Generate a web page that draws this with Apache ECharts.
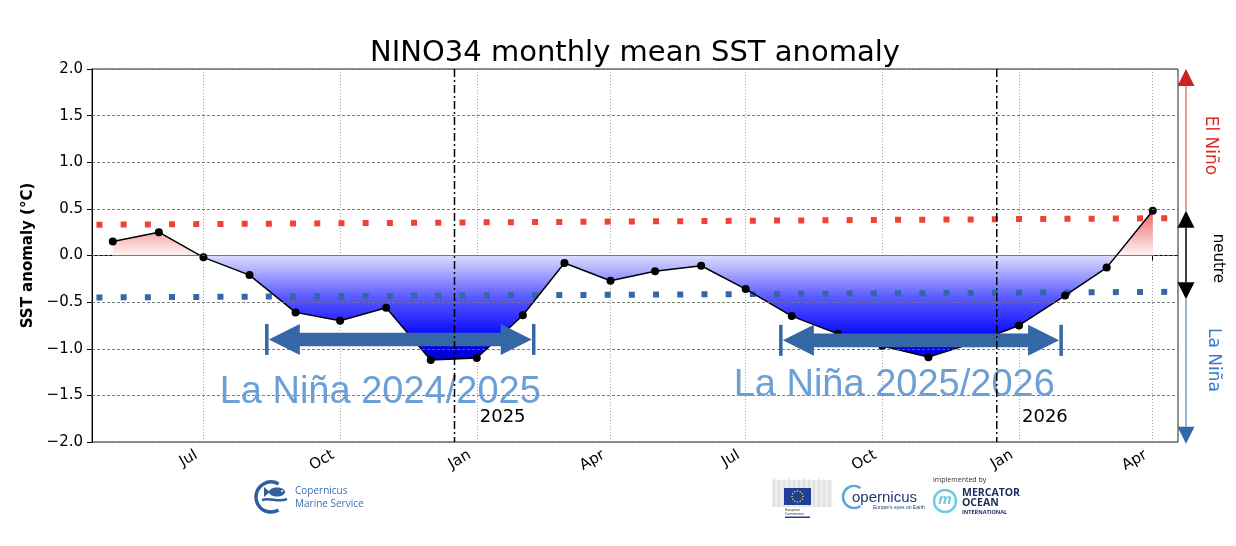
<!DOCTYPE html>
<html>
<head>
<meta charset="utf-8">
<title>NINO34 monthly mean SST anomaly</title>
<script src="https://cdn.jsdelivr.net/npm/echarts@6/dist/echarts.min.js"></script>
<style>
  html, body { margin: 0; padding: 0; background: #fff; }
  #chart { width: 1236px; height: 546px; }
</style>
</head>
<body>
<div id="chart"></div>
<script>
// monthly NINO34 anomaly (°C)
var months = ['2024-05-01', '2024-06-01', '2024-07-01', '2024-08-01', '2024-09-01', '2024-10-01',
              '2024-11-01', '2024-12-01', '2025-01-01', '2025-02-01', '2025-03-01', '2025-04-01',
              '2025-05-01', '2025-06-01', '2025-07-01', '2025-08-01', '2025-09-01', '2025-10-01',
              '2025-11-01', '2025-12-01', '2026-01-01', '2026-02-01', '2026-03-01', '2026-04-01'];
var anomaly = [0.15, 0.25, -0.02, -0.21, -0.61, -0.70,
               -0.56, -1.12, -1.10, -0.64, -0.08, -0.27,
               -0.17, -0.11, -0.36, -0.65, -0.84, -0.97,
               -1.09, -0.94, -0.75, -0.43, -0.13, 0.48];

// thresholds (dotted lines)
var thresholdDates = ['2024-04-20', '2026-04-11'];
var elNinoThreshold = [0.33, 0.40];
var laNinaThreshold = [-0.45, -0.39];

// x axis ticks
var tickDates = ['2024-07-01', '2024-10-01', '2025-01-01', '2025-04-01',
                 '2025-07-01', '2025-10-01', '2026-01-01', '2026-04-01'];
var tickLabels = ['Jul', 'Oct', 'Jan', 'Apr', 'Jul', 'Oct', 'Jan', 'Apr'];
var gridValues = [1.5, 1.0, 0.5, 0.0, -0.5, -1.0, -1.5];

// year separators
var yearMarkDates = ['2024-12-17', '2025-12-17'];
var yearLabelDates = ['2025-01-03', '2026-01-03'];
var yearLabels = ['2025', '2026'];
var yearLabelY = -1.74;

// La Nina episodes
var ninaStart = ['2024-08-12', '2025-07-24'];
var ninaEnd = ['2025-02-09', '2026-01-30'];
var ninaArrowY = [-0.90, -0.91];
var ninaTitles = ['La Niña 2024/2025', 'La Niña 2025/2026'];
var ninaTitleDates = ['2024-10-28', '2025-10-09'];
var ninaTitleY = [-1.47, -1.39];

// side indicator (tips of arrows)
var sideLevels = [2.0, 0.48, -0.47, -2.02];
var sideLabels = ['El Niño', 'neutre', 'La Niña'];
var sideLabelY = [1.18, -0.03, -1.12];

// dates -> day number (x axis is a plain value axis in days)
function t(s) {
    var p = s.split('-');
    return Date.UTC(+p[0], +p[1] - 1, +p[2]) / 86400000;
}

var tickTimes = tickDates.map(t);
var xMin = t('2024-04-17');
var xMax = t('2026-04-18');

var vMax = Math.max.apply(null, anomaly.concat([0]));
var vMin = Math.min.apply(null, anomaly.concat([0]));
function stopAt(v) { return Math.min(1, (vMax - v) / (vMax - vMin)); }

var lineData = months.map(function (d, i) { return [t(d), anomaly[i]]; });

var FONT = '"DejaVu Sans", sans-serif';
var ARROW = '#3566a6';

function renderNinaArrow(params, api) {
    var p1 = api.coord([api.value(0), api.value(2)]);
    var p2 = api.coord([api.value(1), api.value(2)]);
    var yc = p1[1], xa = p1[0] + 3, xb = p2[0] - 3;
    var head = 31, hh = 15.5, sh = 6.8;
    var pts = [[xa, yc], [xa + head, yc - hh], [xa + head, yc - sh], [xb - head, yc - sh],
               [xb - head, yc - hh], [xb, yc], [xb - head, yc + hh], [xb - head, yc + sh],
               [xa + head, yc + sh], [xa + head, yc + hh]];
    return {
        type: 'group',
        children: [
            { type: 'polygon', shape: { points: pts }, style: { fill: ARROW } },
            { type: 'line', shape: { x1: xa - 2, y1: yc - hh, x2: xa - 2, y2: yc + hh },
              style: { stroke: ARROW, lineWidth: 3.5 } },
            { type: 'line', shape: { x1: xb + 2, y1: yc - hh, x2: xb + 2, y2: yc + hh },
              style: { stroke: ARROW, lineWidth: 3.5 } }
        ]
    };
}

function renderNinaTitle(params, api) {
    var p = api.coord([api.value(0), api.value(1)]);
    return {
        type: 'text', x: p[0], y: p[1],
        style: {
            text: ninaTitles[params.dataIndex], fill: '#6c9fd5',
            font: '38px "Liberation Sans", Arial, sans-serif',
            align: 'center', verticalAlign: 'middle'
        }
    };
}

function renderYearMark(params, api) {
    var top = api.coord([api.value(0), 2.0]);
    var bot = api.coord([api.value(0), -2.0]);
    var lab = api.coord([api.value(1), api.value(2)]);
    return {
        type: 'group',
        children: [
            { type: 'line', shape: { x1: top[0], y1: top[1], x2: bot[0], y2: bot[1] },
              style: { stroke: '#000', lineWidth: 1.5, lineDash: [8, 3, 2, 3] } },
            { type: 'text', x: lab[0], y: lab[1],
              style: { text: yearLabels[params.dataIndex], fill: '#000', font: '18px ' + FONT,
                       align: 'left', verticalAlign: 'middle' } }
        ]
    };
}

function renderSide(params, api) {
    var cs = params.coordSys;
    var x = cs.x + cs.width + 8;
    var ys = sideLevels.map(function (v) { return api.coord([xMin, v])[1]; });
    var w = 8.5, h = 17;
    var labX = [x + 24, x + 32, x + 27];
    var labColor = ['#d62a2a', '#000', '#3a78cc'];
    var labSize = [17, 15, 17];
    var children = [
        { type: 'line', shape: { x1: x, y1: ys[0] + h, x2: x, y2: ys[1] }, style: { stroke: '#e99a9a', lineWidth: 2 } },
        { type: 'line', shape: { x1: x, y1: ys[1] + h, x2: x, y2: ys[2] - h }, style: { stroke: '#000', lineWidth: 1.5 } },
        { type: 'line', shape: { x1: x, y1: ys[2], x2: x, y2: ys[3] - h }, style: { stroke: '#94b2da', lineWidth: 2 } },
        { type: 'polygon', shape: { points: [[x, ys[0]], [x - w, ys[0] + h], [x + w, ys[0] + h]] }, style: { fill: '#cc2222' } },
        { type: 'polygon', shape: { points: [[x, ys[1]], [x - w, ys[1] + h], [x + w, ys[1] + h]] }, style: { fill: '#000' } },
        { type: 'polygon', shape: { points: [[x, ys[2]], [x - w, ys[2] - h], [x + w, ys[2] - h]] }, style: { fill: '#000' } },
        { type: 'polygon', shape: { points: [[x, ys[3]], [x - w, ys[3] - h], [x + w, ys[3] - h]] }, style: { fill: '#3566a6' } }
    ];
    sideLabels.forEach(function (s, i) {
        children.push({
            type: 'text', x: labX[i], y: api.coord([xMin, sideLabelY[i]])[1], rotation: -Math.PI / 2,
            style: { text: s, fill: labColor[i], font: labSize[i] + 'px ' + FONT,
                     align: 'center', verticalAlign: 'middle' }
        });
    });
    return { type: 'group', children: children };
}

// logos at the bottom (decoration only)
function logoElements() {
    var els = [];
    var blue = '#2f5f9f';
    // Copernicus Marine Service
    els.push({ type: 'arc', shape: { cx: 271, cy: 497, r: 15, startAngle: Math.PI / 3, endAngle: Math.PI * 5 / 3 },
               style: { stroke: blue, lineWidth: 3.5, fill: null } });
    els.push({ type: 'ellipse', shape: { cx: 277, cy: 492, rx: 8, ry: 4.5 }, style: { fill: blue } });
    els.push({ type: 'polygon', shape: { points: [[270, 492], [264, 487], [264, 497]] }, style: { fill: blue } });
    els.push({ type: 'circle', shape: { cx: 282, cy: 491, r: 1 }, style: { fill: '#fff' } });
    els.push({ type: 'bezierCurve', shape: { x1: 262, y1: 500, cpx1: 270, cpy1: 497, cpx2: 278, cpy2: 503, x2: 287, y2: 499 },
               style: { stroke: blue, lineWidth: 2.5, fill: null } });
    els.push({ type: 'text', x: 295, y: 491, style: { text: 'Copernicus', font: '10px "Open Sans", sans-serif', fill: '#3d6fad', verticalAlign: 'middle' } });
    els.push({ type: 'text', x: 295, y: 504, style: { text: 'Marine Service', font: '10px "Open Sans", sans-serif', fill: '#3d6fad', verticalAlign: 'middle' } });
    // European Commission
    els.push({ type: 'rect', shape: { x: 772, y: 480, width: 60, height: 27 }, style: { fill: '#ededed' } });
    for (var k = 0; k < 12; k++) {
        els.push({ type: 'line', shape: { x1: 774 + k * 5, y1: 478 + (k % 3), x2: 774 + k * 5, y2: 507 }, style: { stroke: '#d4d4d4', lineWidth: 1 } });
    }
    els.push({ type: 'rect', shape: { x: 784, y: 488, width: 27, height: 17 }, style: { fill: '#1f3f99' } });
    for (var s = 0; s < 12; s++) {
        var a = s * Math.PI / 6;
        els.push({ type: 'circle', shape: { cx: 797.5 + 5.5 * Math.cos(a), cy: 496.5 + 5.5 * Math.sin(a), r: 0.8 }, style: { fill: '#ffdd00' } });
    }
    els.push({ type: 'text', x: 785, y: 510, style: { text: 'European', font: '3.5px sans-serif', fill: '#333', verticalAlign: 'middle' } });
    els.push({ type: 'text', x: 785, y: 514, style: { text: 'Commission', font: '3.5px sans-serif', fill: '#333', verticalAlign: 'middle' } });
    els.push({ type: 'rect', shape: { x: 785, y: 516.5, width: 25, height: 1.5 }, style: { fill: '#1f3f99' } });
    // copernicus
    els.push({ type: 'arc', shape: { cx: 854, cy: 497, r: 11, startAngle: Math.PI * 0.3, endAngle: Math.PI * 1.7 },
               style: { stroke: '#5aa6dc', lineWidth: 2.5, fill: null } });
    els.push({ type: 'text', x: 852, y: 498, style: { text: 'opernicus', font: '15px "Liberation Sans", sans-serif', fill: '#1c3b76', verticalAlign: 'middle' } });
    els.push({ type: 'text', x: 873, y: 508, style: { text: "Europe's eyes on Earth", font: '5px sans-serif', fill: '#1c3b76', verticalAlign: 'middle' } });
    // Mercator Ocean International
    els.push({ type: 'text', x: 933, y: 480, style: { text: 'implemented by', font: '7px "Open Sans", sans-serif', fill: '#333', verticalAlign: 'middle' } });
    els.push({ type: 'circle', shape: { cx: 945, cy: 501, r: 11 }, style: { stroke: '#6ccbe6', lineWidth: 2.5, fill: null } });
    els.push({ type: 'text', x: 945, y: 500, style: { text: 'm', font: 'italic bold 15px "Open Sans", sans-serif', fill: '#6ccbe6', align: 'center', verticalAlign: 'middle' } });
    els.push({ type: 'text', x: 962, y: 493, style: { text: 'MERCATOR', font: 'bold 10.5px "Open Sans", sans-serif', fill: '#1d2b5c', verticalAlign: 'middle' } });
    els.push({ type: 'text', x: 962, y: 503, style: { text: 'OCEAN', font: 'bold 10.5px "Open Sans", sans-serif', fill: '#1d2b5c', verticalAlign: 'middle' } });
    els.push({ type: 'text', x: 962, y: 512, style: { text: 'INTERNATIONAL', font: 'bold 5.5px "Open Sans", sans-serif', fill: '#1d2b5c', verticalAlign: 'middle' } });
    return els;
}

var chart = echarts.init(document.getElementById('chart'));
var option = {
    animation: false,
    backgroundColor: '#fff',
    graphic: {
        elements: [
            { type: 'text', x: 635, y: 53, style: { text: 'NINO34 monthly mean SST anomaly', font: '29px ' + FONT, fill: '#000', align: 'center', verticalAlign: 'middle' } }
        ].concat(logoElements())
    },
    grid: { left: 92, right: 58, top: 69, bottom: 104, show: true, borderColor: '#222', borderWidth: 1 },
    xAxis: {
        type: 'value',
        min: xMin,
        max: xMax,
        axisLine: { lineStyle: { color: '#000', width: 1 } },
        axisTick: { length: 5, customValues: tickTimes, lineStyle: { color: '#000' } },
        axisLabel: {
            customValues: tickTimes,
            rotate: 30,
            margin: 8,
            padding: [0, 8, 0, 0],
            fontFamily: 'DejaVu Sans',
            fontSize: 15,
            color: '#000',
            formatter: function (val) {
                var i = tickTimes.indexOf(val);
                return i >= 0 ? tickLabels[i] : '';
            }
        },
        splitLine: { show: true, lineStyle: { type: [1, 2], color: '#8a8a8a', width: 0.8 } }
    },
    yAxis: {
        type: 'value',
        min: -2,
        max: 2,
        interval: 0.5,
        name: 'SST anomaly (°C)',
        nameLocation: 'middle',
        nameGap: 55,
        nameTextStyle: { fontFamily: 'DejaVu Sans', fontSize: 15, fontWeight: 'bold', color: '#000' },
        axisLine: { show: true, lineStyle: { color: '#000', width: 1 } },
        axisTick: { show: true, length: 5, lineStyle: { color: '#000' } },
        axisLabel: {
            margin: 9,
            fontFamily: 'DejaVu Sans',
            fontSize: 15,
            color: '#000',
            formatter: function (v) { return (v < 0 ? '\u2212' : '') + Math.abs(v).toFixed(1); }
        },
        splitLine: { show: true, lineStyle: { type: [3, 2], color: '#777', width: 0.8 } }
    },
    series: [
        {
            name: 'fill',
            type: 'line',
            data: lineData,
            z: 2,
            silent: true,
            showSymbol: false,
            symbol: 'none',
            lineStyle: { width: 0, opacity: 0 },
            areaStyle: {
                opacity: 1,
                color: {
                    type: 'linear', x: 0, y: 0, x2: 0, y2: 1,
                    colorStops: [
                        { offset: 0, color: '#ee6464' },
                        { offset: stopAt(0), color: '#fff4f4' },
                        { offset: stopAt(0), color: '#dcdcff' },
                        { offset: stopAt(-0.45), color: '#5a5aff' },
                        { offset: stopAt(-0.9), color: '#0000ff' },
                        { offset: 1, color: '#0000cc' }
                    ]
                }
            }
        },
        {
            name: 'grid overlay',
            type: 'line',
            z: 3,
            silent: true,
            data: [],
            markLine: {
                silent: true,
                symbol: 'none',
                label: { show: false },
                data: gridValues.map(function (v) {
                    return { yAxis: v, lineStyle: { type: [3, 2], color: '#777', width: 0.8 } };
                })
            }
        },
        {
            name: 'El Niño threshold',
            type: 'line',
            z: 3,
            symbol: 'none',
            silent: true,
            data: thresholdDates.map(function (d, i) { return [t(d), elNinoThreshold[i]]; }),
            lineStyle: { color: '#ef4136', width: 6, type: [6, 18.2], cap: 'butt' }
        },
        {
            name: 'La Niña threshold',
            type: 'line',
            z: 3,
            symbol: 'none',
            silent: true,
            data: thresholdDates.map(function (d, i) { return [t(d), laNinaThreshold[i]]; }),
            lineStyle: { color: '#3566a6', width: 6, type: [6, 18.2], cap: 'butt' }
        },
        {
            name: 'NINO34',
            type: 'line',
            z: 4,
            data: lineData,
            symbol: 'circle',
            symbolSize: 8,
            showAllSymbol: true,
            lineStyle: { color: '#000', width: 1.5 },
            itemStyle: { color: '#000' }
        },
        {
            name: 'La Niña arrows',
            type: 'custom',
            z: 5,
            silent: true,
            renderItem: renderNinaArrow,
            data: ninaStart.map(function (d, i) { return [t(d), t(ninaEnd[i]), ninaArrowY[i]]; })
        },
        {
            name: 'La Niña titles',
            type: 'custom',
            z: 6,
            silent: true,
            renderItem: renderNinaTitle,
            data: ninaTitleDates.map(function (d, i) { return [t(d), ninaTitleY[i]]; })
        },
        {
            name: 'years',
            type: 'custom',
            z: 7,
            silent: true,
            renderItem: renderYearMark,
            data: yearMarkDates.map(function (d, i) { return [t(d), t(yearLabelDates[i]), yearLabelY]; })
        },
        {
            name: 'side',
            type: 'custom',
            z: 8,
            silent: true,
            renderItem: renderSide,
            data: [[xMin, 0]]
        }
    ]
};
chart.setOption(option);
</script>
</body>
</html>
